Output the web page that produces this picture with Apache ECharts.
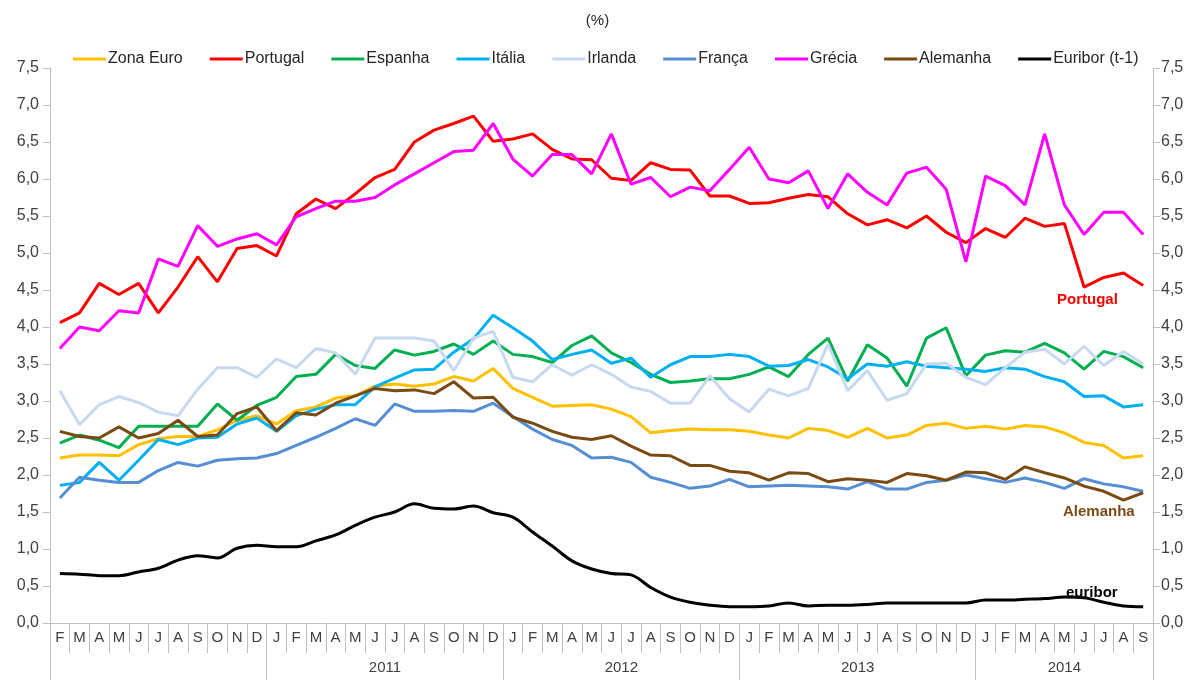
<!DOCTYPE html>
<html>
<head>
<meta charset="utf-8">
<script src="https://cdn.jsdelivr.net/npm/echarts/dist/echarts.min.js"></script>
<style>
html,body{margin:0;padding:0;background:#fff;}
#c{width:1195px;height:680px;}
</style>
</head>
<body>
<div id="c"></div>
<script>
// Months Feb 2010 .. Sep 2014
var months = ['F','M','A','M','J','J','A','S','O','N','D',
  'J','F','M','A','M','J','J','A','S','O','N','D',
  'J','F','M','A','M','J','J','A','S','O','N','D',
  'J','F','M','A','M','J','J','A','S','O','N','D',
  'J','F','M','A','M','J','J','A','S'];
var years = ['2010','2011','2012','2013','2014'];
var yearLengths = [11, 12, 12, 12, 9];

var zonaEuro = [2.23,2.27,2.27,2.26,2.41,2.49,2.52,2.52,2.61,2.74,2.80,
  2.69,2.87,2.92,3.04,3.07,3.20,3.23,3.20,3.23,3.33,3.27,3.44,
  3.17,3.05,2.93,2.94,2.95,2.89,2.79,2.57,2.60,2.62,2.61,2.61,
  2.59,2.54,2.50,2.63,2.60,2.51,2.63,2.50,2.54,2.67,2.70,2.63,
  2.66,2.62,2.67,2.65,2.57,2.44,2.40,2.23,2.26];
var portugal = [4.06,4.19,4.59,4.44,4.59,4.19,4.54,4.95,4.61,5.06,5.10,
  4.96,5.53,5.73,5.60,5.80,6.02,6.13,6.50,6.66,6.75,6.85,6.51,
  6.54,6.61,6.40,6.27,6.26,6.01,5.98,6.22,6.13,6.12,5.77,5.77,
  5.67,5.68,5.74,5.79,5.76,5.53,5.38,5.45,5.34,5.50,5.28,5.14,
  5.33,5.21,5.47,5.36,5.40,4.54,4.67,4.73,4.56];
var espanha = [2.43,2.54,2.47,2.37,2.66,2.66,2.66,2.66,2.96,2.74,2.94,
  3.05,3.33,3.36,3.63,3.48,3.44,3.69,3.62,3.67,3.77,3.63,3.81,
  3.63,3.60,3.52,3.75,3.88,3.65,3.52,3.36,3.25,3.27,3.30,3.30,
  3.36,3.46,3.33,3.63,3.85,3.27,3.76,3.58,3.20,3.85,3.99,3.34,
  3.62,3.68,3.66,3.78,3.65,3.43,3.67,3.60,3.45];
var italia = [1.86,1.90,2.17,1.93,2.20,2.48,2.41,2.50,2.51,2.69,2.77,
  2.59,2.80,2.89,2.95,2.95,3.19,3.31,3.42,3.43,3.66,3.84,4.16,
  3.99,3.81,3.56,3.63,3.69,3.51,3.58,3.32,3.49,3.60,3.60,3.63,
  3.60,3.47,3.48,3.56,3.46,3.30,3.50,3.47,3.53,3.47,3.45,3.43,
  3.40,3.45,3.43,3.33,3.26,3.06,3.07,2.92,2.95];
var irlanda = [3.14,2.68,2.95,3.06,2.98,2.85,2.80,3.16,3.45,3.45,3.32,
  3.57,3.45,3.71,3.65,3.36,3.85,3.85,3.85,3.81,3.41,3.85,3.94,
  3.32,3.26,3.49,3.35,3.49,3.36,3.19,3.13,2.97,2.97,3.34,3.03,
  2.85,3.16,3.07,3.17,3.77,3.14,3.41,3.01,3.10,3.50,3.51,3.32,
  3.22,3.45,3.66,3.70,3.50,3.74,3.48,3.67,3.50];
var franca = [1.69,1.97,1.93,1.90,1.90,2.06,2.17,2.12,2.20,2.22,2.23,
  2.29,2.40,2.51,2.63,2.76,2.67,2.96,2.86,2.86,2.87,2.86,2.97,
  2.79,2.62,2.48,2.40,2.23,2.24,2.17,1.97,1.90,1.82,1.85,1.94,
  1.84,1.85,1.86,1.85,1.84,1.81,1.91,1.81,1.81,1.90,1.93,2.00,
  1.95,1.90,1.96,1.90,1.82,1.95,1.88,1.84,1.78];
var grecia = [3.71,4.00,3.95,4.22,4.19,4.92,4.82,5.37,5.09,5.19,5.26,
  5.11,5.49,5.60,5.70,5.70,5.75,5.92,6.07,6.22,6.37,6.39,6.75,
  6.27,6.04,6.33,6.33,6.07,6.61,5.93,6.02,5.76,5.89,5.84,6.13,
  6.43,6.00,5.95,6.11,5.60,6.07,5.82,5.65,6.08,6.16,5.86,4.88,
  6.04,5.91,5.65,6.61,5.65,5.25,5.55,5.55,5.25];
var alemanha = [2.59,2.52,2.50,2.65,2.50,2.56,2.74,2.52,2.54,2.83,2.92,
  2.60,2.84,2.81,2.97,3.07,3.17,3.14,3.15,3.10,3.26,3.04,3.05,
  2.78,2.70,2.59,2.51,2.48,2.53,2.39,2.27,2.26,2.13,2.13,2.05,
  2.03,1.93,2.03,2.02,1.91,1.95,1.93,1.90,2.02,1.99,1.93,2.04,
  2.03,1.94,2.11,2.03,1.96,1.85,1.78,1.66,1.76];
var euribor = [0.67,0.66,0.64,0.64,0.69,0.74,0.85,0.91,0.88,1.01,1.05,
  1.03,1.03,1.11,1.19,1.32,1.43,1.50,1.61,1.55,1.54,1.58,1.49,
  1.43,1.23,1.04,0.84,0.73,0.67,0.65,0.48,0.35,0.28,0.24,0.22,
  0.22,0.23,0.27,0.23,0.24,0.24,0.25,0.27,0.27,0.27,0.27,0.27,
  0.31,0.31,0.32,0.33,0.35,0.34,0.28,0.23,0.22];

var seriesNames = ['Zona Euro','Portugal','Espanha','Itália','Irlanda','França','Grécia','Alemanha','Euribor (t-1)'];
var seriesData = [zonaEuro, portugal, espanha, italia, irlanda, franca, grecia, alemanha, euribor];
var seriesColors = ['#FFC000','#FF0000','#00B050','#00B0F0','#C6D9F1','#558ED5','#FF00FF','#7B4A12','#000000'];

// year per month, boundaries and label positions
var yearOfMonth = [], boundaries = {}, yearLabelAt = {};
(function(){
  var idx = 0;
  for (var y = 0; y < years.length; y++) {
    boundaries[idx] = true;
    var len = yearLengths[y];
    if (y > 0) {
      var mid = idx + Math.floor((len - 1) / 2);
      yearLabelAt[mid] = (len % 2 === 0) ? 'even' : 'odd';
    }
    for (var k = 0; k < len; k++) { yearOfMonth.push(years[y]); }
    idx += len;
  }
})();

var chart = echarts.init(document.getElementById('c'), null, {renderer: 'canvas'});
var fmt = function (v) { return v.toFixed(1).replace('.', ','); };
var axisGray = '#BFBFBF';
var labelColor = '#404040';
var font = 'Liberation Sans, Arial, sans-serif';

var series = seriesNames.map(function (n, i) {
  return {
    name: n,
    type: 'line',
    data: seriesData[i],
    xAxisIndex: 0,
    yAxisIndex: 0,
    symbol: 'none',
    smooth: i === 8 ? 0.35 : false,
    lineStyle: {width: 3, color: seriesColors[i]},
    itemStyle: {color: seriesColors[i]},
    z: i === 8 ? 3 : 2
  };
});

chart.setOption({
  animation: false,
  backgroundColor: '#ffffff',
  textStyle: {fontFamily: font},
  title: {
    text: '(%)', left: 'center', top: 8,
    textStyle: {fontSize: 15, fontWeight: 'normal', color: '#262626', fontFamily: font}
  },
  legend: {
    data: seriesNames,
    left: 68, top: 46,
    icon: 'rect', itemWidth: 33, itemHeight: 3, itemGap: 27,
    textStyle: {fontSize: 16, color: '#262626', fontFamily: font, padding: [0, 0, 0, -3]}
  },
  grid: {left: 50, right: 42, top: 68, bottom: 57},
  xAxis: [
    {
      type: 'category', data: months, position: 'bottom',
      axisLine: {show: true, lineStyle: {color: axisGray, width: 1}},
      axisTick: {show: true, interval: 0, length: 30, lineStyle: {color: axisGray}},
      axisLabel: {interval: 0, margin: 7, fontSize: 15, color: labelColor, fontFamily: font},
      splitLine: {show: false}
    },
    {
      type: 'category', data: yearOfMonth, position: 'bottom', gridIndex: 0,
      axisLine: {show: false},
      axisTick: {show: true, length: 57, lineStyle: {color: axisGray},
        interval: function (i) { return !!boundaries[i]; }},
      axisLabel: {
        margin: 37, fontSize: 15, color: labelColor, fontFamily: font,
        interval: function (i) { return !!yearLabelAt[i]; },
        formatter: function (v, i) {
          return yearLabelAt[i] === 'even' ? '{s|' + v + '}' : v;
        },
        rich: {s: {padding: [0, 0, 0, 20], fontSize: 15, color: labelColor, fontFamily: font}}
      },
      splitLine: {show: false}
    }
  ],
  yAxis: [
    {
      type: 'value', min: 0, max: 7.5, interval: 0.5, position: 'left',
      axisLine: {show: true, lineStyle: {color: axisGray}},
      axisTick: {show: true, length: 7, lineStyle: {color: axisGray}},
      axisLabel: {formatter: fmt, fontSize: 16, color: labelColor, margin: 11, fontFamily: font},
      splitLine: {show: false}
    },
    {
      type: 'value', min: 0, max: 7.5, interval: 0.5, position: 'right',
      axisLine: {show: true, lineStyle: {color: axisGray}},
      axisTick: {show: true, length: 7, lineStyle: {color: axisGray}},
      axisLabel: {formatter: fmt, fontSize: 16, color: labelColor, margin: 8, fontFamily: font},
      splitLine: {show: false}
    }
  ],
  series: series,
  graphic: [
    {type: 'text', left: 1057, top: 292, style: {text: 'Portugal', fill: '#FF0000', font: 'bold 15px ' + font}},
    {type: 'text', left: 1063, top: 504, style: {text: 'Alemanha', fill: '#7B4A12', font: 'bold 15px ' + font}},
    {type: 'text', left: 1066, top: 585, style: {text: 'euribor', fill: '#000000', font: 'bold 15px ' + font}}
  ]
});
</script>
</body>
</html>
